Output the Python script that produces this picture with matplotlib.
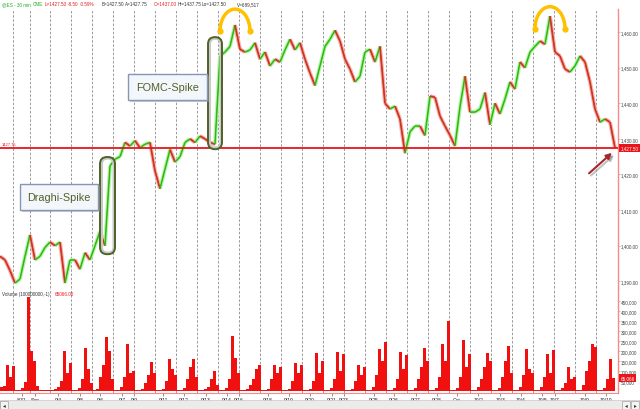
import numpy as np
import matplotlib.pyplot as plt
import matplotlib.transforms as mtransforms
from matplotlib.collections import LineCollection
from matplotlib.patches import FancyBboxPatch, Rectangle, Arc, FancyArrowPatch

plt.rcParams['font.family'] = ['Liberation Sans', 'DejaVu Sans']

# ES 30 min chart, x axis in chart time units (session ~21 units)
price_step = 5
closes = [
    1397, 1396, 1393, 1389.5, 1390.6, 1397, 1403, 1396, 1397, 1399.5,
    1401, 1400, 1401, 1389.5, 1396, 1396, 1393.4, 1398, 1396, 1400,
    1404, 1400, 1422.4, 1424.3, 1425, 1429, 1428, 1429.5, 1427.5, 1428.5,
    1429, 1421, 1416, 1421.5, 1427, 1423.5, 1425, 1429, 1430, 1429,
    1430.8, 1430, 1429, 1428.5, 1453.3, 1454.4, 1456, 1462, 1455.2, 1454.4,
    1455, 1457, 1452.4, 1454.4, 1450.5, 1452.4, 1451.6, 1455, 1458, 1455,
    1457, 1452.4, 1448.5, 1445, 1450.5, 1456, 1458, 1460.5, 1457.5, 1452.4,
    1449.6, 1446, 1447.6, 1454.4, 1455.2, 1451.6, 1456, 1440, 1438.4, 1439.2,
    1435.6, 1426, 1432, 1433.6, 1433.6, 1431, 1442, 1441.7, 1436.4, 1433.6,
    1431, 1428, 1439, 1447.6, 1437.5, 1437.5, 1438.4, 1443, 1434, 1440,
    1437, 1441.2, 1446, 1444, 1451.6, 1450, 1454.4, 1456, 1457.5, 1456.6,
    1464.5, 1454.4, 1453.3, 1449.6, 1448.8, 1450.5, 1453.3, 1451.6, 1446, 1438.4,
    1434.7, 1435.6, 1434.7, 1427.5,
]

# volume in thousands, 3 time units per bar
vol_step = 3
volume_k = [
    20, 25, 130, 70, 125, 5, 4,
    15, 45, 470, 200, 150, 25, 5,
    5, 5, 5, 6, 8, 20, 50,
    200, 90, 140, 5, 5, 15, 60,
    215, 110, 40, 5, 8, 70, 130,
    270, 200, 60, 5, 6, 20, 70,
    235, 90, 100, 5, 5, 8, 40,
    80, 145, 90, 5, 5, 10, 50,
    160, 110, 80, 5, 5, 15, 60,
    120, 160, 70, 5, 5, 8, 20,
    60, 100, 30, 5, 5, 15, 60,
    275, 165, 90, 5, 5, 10, 30,
    60, 110, 130, 5, 5, 10, 60,
    130, 90, 120, 5, 5, 10, 50,
    140, 90, 130, 5, 5, 10, 50,
    190, 90, 150, 5, 5, 15, 60,
    195, 100, 185, 5, 5, 10, 50,
    130, 80, 120, 5, 5, 20, 80,
    210, 150, 245, 5, 5, 15, 60,
    195, 110, 180, 5, 5, 15, 60,
    120, 215, 150, 5, 5, 15, 70,
    235, 150, 350, 5, 5, 15, 70,
    255, 120, 185, 5, 5, 20, 60,
    120, 190, 150, 5, 5, 15, 70,
    150, 225, 90, 5, 5, 20, 80,
    210, 110, 90, 5, 5, 20, 70,
    185, 90, 205, 5, 5, 15, 40,
    120, 60, 70, 5, 5, 30, 100,
    150, 235, 220, 5, 5, 15, 60,
    160, 65,
]

session_breaks = [13, 30, 50, 71, 92, 113, 134, 155, 176, 197, 218, 239, 260, 281,
                  302, 323, 344, 365, 386, 407, 428, 449, 470, 491, 512, 533, 554, 575, 596]
date_pos = [22, 35, 58, 80, 100, 122, 134, 163, 184, 206, 227, 239, 268, 289, 310,
            332, 344, 374, 394, 416, 437, 457, 478, 500, 521, 542, 555, 585, 606]
date_labels = ['8/31', 'Sep', '9/4', '9/5', '9/6', '9/7', '9/9', '9/11', '9/12', '9/13',
               '9/14', '9/16', '9/18', '9/19', '9/20', '9/21', '9/23', '9/25', '9/26',
               '9/27', '9/28', 'Oct', '10/2', '10/3', '10/4', '10/5', '10/7', '10/9', '10/10']
price_ticks = [1390, 1400, 1410, 1420, 1430, 1440, 1450, 1460]
vol_ticks = [50000, 100000, 150000, 200000, 250000, 300000, 350000, 400000, 450000]
last_price = 1427.5
last_volume = 65066

W, H = 640, 410
RED = '#e8161c'
PINK = '#f28c8c'
OLIVE = '#4f6228'
FS = 3.3

fig = plt.figure(figsize=(6.4, 4.1), dpi=100)
ax = fig.add_axes([0, 1 - 289 / H, 618 / W, 279 / H])
axv = fig.add_axes([0, 1 - 394 / H, 618 / W, 105 / H], sharex=ax)

ax.set_xlim(0, 618)
ax.set_ylim(1388.1, 1466.5)
axv.set_ylim(-10000, 515000)
py = 3.56  # pixels per price point

for a in (ax, axv):
    for s in ('top', 'left', 'bottom'):
        a.spines[s].set_visible(False)
    a.spines['right'].set_color(PINK)
    a.spines['right'].set_linewidth(1)
    a.yaxis.tick_right()
    a.tick_params(axis='y', length=1.5, width=0.5, color=PINK, labelsize=FS,
                  labelcolor='#444444', pad=0.5)
    for b in session_breaks:
        a.axvline(b, color='#8a8a8a', lw=0.6, ls=(0, (3, 2)), zorder=0)
axv.spines['bottom'].set_visible(True)
axv.spines['bottom'].set_color(PINK)

ax.tick_params(axis='x', bottom=False, labelbottom=False)
ax.set_yticks(price_ticks)
ax.set_yticklabels(['{:,.2f}'.format(p) for p in price_ticks])
axv.set_yticks(vol_ticks)
axv.set_yticklabels(['{:,.0f}'.format(v) for v in vol_ticks])
axv.set_xticks(date_pos)
axv.set_xticklabels(date_labels)
axv.tick_params(axis='x', length=2, width=0.5, color='#666666', labelsize=3.6,
                labelcolor='#222222', pad=1)

# price path: light band underneath, coloured up/down segments on top
xp = np.arange(len(closes)) * price_step
c = np.array(closes)
segs = np.stack([np.column_stack([xp[:-1], c[:-1]]), np.column_stack([xp[1:], c[1:]])], axis=1)
up = np.diff(c) >= 0
ax.add_collection(LineCollection(segs, colors=np.where(up, '#b5f5ad', '#f7b0b0'),
                                 linewidths=2.8, zorder=2))
ax.add_collection(LineCollection(segs, colors=np.where(up, '#1fe01f', '#ee1c1c'),
                                 linewidths=1.2, zorder=3))
ax.plot(xp, c, color='#7d6b12', lw=0.5, alpha=0.7, zorder=3)

# volume
xv = np.arange(len(volume_k)) * vol_step + vol_step / 2
axv.bar(xv, np.array(volume_k) * 1000, width=3.0, color='#fbb4b4', edgecolor='none', zorder=2)
axv.bar(xv, np.array(volume_k) * 1000, width=2.1, color='#f01010', edgecolor='none', zorder=2)

# last price line and labels
ax.axhline(last_price, color=RED, lw=1.3, zorder=4)
tr = mtransforms.blended_transform_factory(ax.transAxes, ax.transData)
ax.text(1.004, last_price, '{:,.2f}'.format(last_price), transform=tr, color='white',
        fontsize=FS, va='center', ha='left', zorder=6,
        bbox=dict(facecolor=RED, edgecolor='none', boxstyle='square,pad=0.35'))
ax.text(2, last_price + 0.4, '1427.75', color=RED, fontsize=3.0, va='bottom', ha='left')
trv = mtransforms.blended_transform_factory(axv.transAxes, axv.transData)
axv.text(1.004, last_volume, '{:,.0f}'.format(last_volume), transform=trv, color='white',
         fontsize=FS, va='center', ha='left', zorder=6,
         bbox=dict(facecolor=RED, edgecolor='none', boxstyle='square,pad=0.35'))


def stadium(x0, w, p0, p1):
    ax.add_patch(FancyBboxPatch((x0 + 1.5, p0 + 0.3), w - 2.5, p1 - p0 - 0.6,
                                boxstyle='round,pad=0,rounding_size=6', mutation_aspect=1 / py,
                                ec='#c9c9c9', fc='none', lw=2.2, zorder=5))
    ax.add_patch(FancyBboxPatch((x0, p0), w, p1 - p0,
                                boxstyle='round,pad=0,rounding_size=7', mutation_aspect=1 / py,
                                ec=OLIVE, fc='none', lw=1.4, zorder=5))


def callout(x0, x1, p0, p1, label):
    ax.add_patch(Rectangle((x0 + 2, p0 - 2 / py), x1 - x0, p1 - p0, fc='#9a9a9a',
                           ec='none', alpha=0.5, zorder=6))
    ax.add_patch(Rectangle((x0, p0), x1 - x0, p1 - p0, fc='#f3f6fb', ec='#8796b5',
                           lw=1, zorder=6))
    ax.text((x0 + x1) / 2, (p0 + p1) / 2, label, color=OLIVE, fontsize=7.8,
            ha='center', va='center', zorder=7)


stadium(100, 15, 1397.6, 1424.9)
stadium(208, 14, 1427.1, 1458.6)
callout(20, 98, 1410.0, 1417.3, 'Draghi-Spike')
callout(128, 207, 1440.9, 1448.2, 'FOMC-Spike')

# double top arcs
for cx, cy in [(235, 1460.3), (550, 1461.0)]:
    ax.add_patch(Arc((cx, cy), 30, 12.3, theta1=0, theta2=180, color='#ffc000',
                     lw=2.5, zorder=7, clip_on=False))
    ax.plot([cx - 15, cx + 15], [cy, cy], 'o', color='#ffc000', ms=3.5, zorder=7,
            clip_on=False)

# arrow to last price
ax.add_patch(FancyArrowPatch((589, 1419.2), (616, 1426.0), arrowstyle='-|>',
                             mutation_scale=8, color='#9a9a9a', lw=1.5, alpha=0.6, zorder=6))
ax.add_patch(FancyArrowPatch((587, 1419.8), (614, 1426.6), arrowstyle='-|>',
                             mutation_scale=8, color='#a8262b', lw=1.5, zorder=7))

# header line
header = [(2, '@ES - 30 min', '#22aa22'), (33, 'CME', '#22aa22'),
          (45, 'L=1427.50', RED), (68, '-8.50', RED), (80, '-0.59%', RED),
          (102, 'B=1427.50', '#333333'), (125, 'A=1427.75', '#333333'),
          (154, 'O=1437.00', RED), (178, 'Hi=1437.75', '#333333'),
          (202, 'Lo=1427.50', '#333333'), (237, 'V=689,517', '#333333')]
for hx, txt, col in header:
    fig.text(hx / W, 1 - 4.5 / H, txt, color=col, fontsize=FS, va='center', ha='left')
fig.text(2 / W, 1 - 295 / H, 'Volume (100000000,-1)', color='#333333', fontsize=FS,
         va='center', ha='left')
fig.text(55 / W, 1 - 295 / H, '65066.00', color=RED, fontsize=FS, va='center', ha='left')

# scroll bar
fig.patches.append(Rectangle((0, 0), 1, 9 / H, transform=fig.transFigure,
                             fc='#ebebeb', ec='#c8c8c8', lw=0.5))
for bx in (0, 622, 631):
    fig.patches.append(Rectangle((bx / W, 0.5 / H), 8 / W, 8 / H, transform=fig.transFigure,
                                 fc='#f4f4f4', ec='#a0a0a0', lw=0.5))
fig.text(4 / W, 4.5 / H, '\u25c2', fontsize=4, ha='center', va='center', color='#333333')
fig.text(626 / W, 4.5 / H, '\u25c2', fontsize=4, ha='center', va='center', color='#333333')
fig.text(635 / W, 4.5 / H, '\u25b8', fontsize=4, ha='center', va='center', color='#333333')

plt.savefig('out.png', dpi=100)
